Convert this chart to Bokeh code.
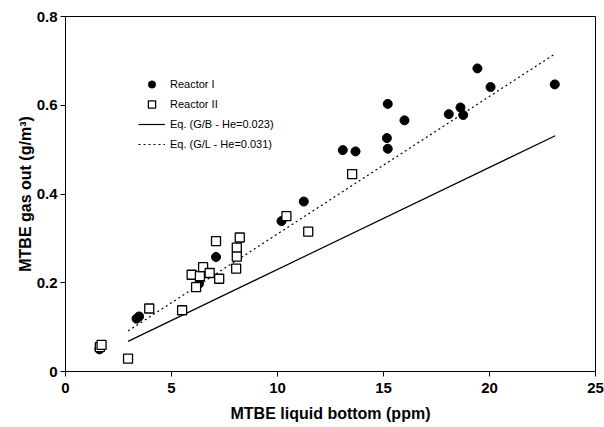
from bokeh.plotting import figure
from bokeh.models import Legend, LegendItem, FixedTicker, Range1d
from bokeh.embed import file_html
from bokeh.resources import INLINE

# Reactor I (filled circles)
r1_x = [1.60, 1.68, 3.35, 3.47, 6.30, 7.10, 10.19, 11.24, 13.08, 13.68,
        15.20, 15.16, 15.20, 15.99, 18.08, 18.63, 18.76, 19.43, 20.05, 23.08]
r1_y = [0.050, 0.058, 0.119, 0.124, 0.198, 0.258, 0.339, 0.383, 0.499, 0.496,
        0.603, 0.526, 0.502, 0.566, 0.580, 0.595, 0.578, 0.683, 0.641, 0.647]

# Reactor II (open squares)
r2_x = [1.62, 1.70, 2.95, 3.95, 5.50, 5.95, 6.16, 6.34, 6.49, 6.80, 7.25,
        7.10, 8.22, 8.08, 8.08, 8.05, 10.42, 11.45, 13.52]
r2_y = [0.055, 0.060, 0.029, 0.142, 0.138, 0.218, 0.190, 0.215, 0.235, 0.222, 0.209,
        0.294, 0.302, 0.279, 0.259, 0.232, 0.350, 0.315, 0.445]

# Model lines: gas = He * liquid
he_gb = 0.023
he_gl = 0.031
line_x = [2.95, 23.1]
line_gb = [he_gb * v for v in line_x]
line_gl = [he_gl * v for v in line_x]

x_ticks = [0, 5, 10, 15, 20, 25]
y_ticks = [0, 0.2, 0.4, 0.6, 0.8]
y_tick_labels = {0: "0", 0.2: "0.2", 0.4: "0.4", 0.6: "0.6", 0.8: "0.8"}

labels = ["Reactor I", "Reactor II", "Eq. (G/B - He=0.023)", "Eq. (G/L - He=0.031)"]

p = figure(width=604, height=427, output_backend="svg", toolbar_location=None,
           x_range=Range1d(0, 25), y_range=Range1d(0, 0.8),
           min_border_left=65, min_border_right=9, min_border_top=16, min_border_bottom=56)

p.xgrid.visible = False
p.ygrid.visible = False
p.outline_line_color = "black"
p.outline_line_width = 1
p.background_fill_color = "white"
p.border_fill_color = "white"

font = "Liberation Sans"
for ax in (p.xaxis[0], p.yaxis[0]):
    ax.major_tick_in = 0
    ax.major_tick_out = 5
    ax.minor_tick_out = 0
    ax.minor_tick_in = 0
    ax.axis_line_color = "black"
    ax.major_tick_line_color = "black"
    ax.major_label_text_font = font
    ax.major_label_text_font_style = "bold"
    ax.major_label_text_font_size = "15px"
    ax.major_label_text_color = "black"
    ax.axis_label_text_font = font
    ax.axis_label_text_font_style = "bold"
    ax.axis_label_text_font_size = "16px"
    ax.axis_label_text_color = "black"

p.xaxis[0].ticker = FixedTicker(ticks=x_ticks)
p.yaxis[0].ticker = FixedTicker(ticks=y_ticks)
p.yaxis[0].major_label_overrides = y_tick_labels
p.xaxis[0].axis_label = "MTBE liquid bottom (ppm)"
p.yaxis[0].axis_label = "MTBE gas out (g/m³)"
p.xaxis[0].major_label_standoff = 6
p.xaxis[0].axis_label_standoff = 9
p.yaxis[0].major_label_standoff = 3
p.yaxis[0].axis_label_standoff = 0

l_gb = p.line(line_x, line_gb, line_color="black", line_width=1.2)
l_gl = p.line(line_x, line_gl, line_color="black", line_width=1.2, line_dash="2 3")
c1 = p.scatter(r1_x, r1_y, marker="circle", size=9, fill_color="black", line_color="black")
s2 = p.scatter(r2_x, r2_y, marker="square", size=9, fill_color="white", line_color="black",
               line_width=1.3)

legend = Legend(items=[
    LegendItem(label=labels[0], renderers=[c1]),
    LegendItem(label=labels[1], renderers=[s2]),
    LegendItem(label=labels[2], renderers=[l_gb]),
    LegendItem(label=labels[3], renderers=[l_gl]),
], location=(73, 218))
legend.border_line_color = None
legend.background_fill_alpha = 0
legend.padding = 0
legend.margin = 0
legend.spacing = 2
legend.glyph_height = 18
legend.label_height = 18
legend.glyph_width = 27
legend.label_standoff = 5
legend.label_text_font = font
legend.label_text_font_size = "11px"
legend.label_text_color = "black"
p.add_layout(legend)

open("out.html", "w").write(file_html(p, INLINE))
